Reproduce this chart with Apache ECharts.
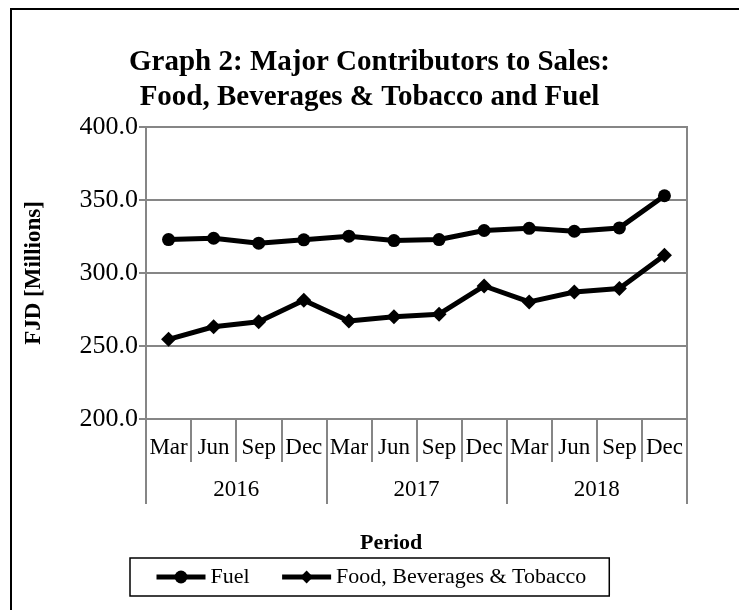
<!DOCTYPE html>
<html>
<head>
<meta charset="utf-8">
<script src="https://cdn.jsdelivr.net/npm/echarts@6/dist/echarts.min.js"></script>
<style>
html,body{margin:0;padding:0;background:#fff;}
#chart{width:739px;height:610px;}
</style>
</head>
<body>
<div id="chart"></div>
<script>
var months = ["Mar","Jun","Sep","Dec","Mar","Jun","Sep","Dec","Mar","Jun","Sep","Dec"];
var years = ["2016","2017","2018"];
var fuel = [322.9, 323.8, 320.4, 322.7, 325.2, 322.2, 322.9, 329.1, 330.6, 328.6, 330.9, 352.9];
var food = [254.6, 263.2, 266.6, 281.4, 267.1, 270.0, 271.8, 291.1, 280.2, 287.0, 289.4, 312.1];
var yTicks = [200, 250, 300, 350, 400];

var FONT = "'Liberation Serif', 'Times New Roman', serif";
var GRAY = '#868686';

var chart = echarts.init(document.getElementById('chart'), null, {renderer: 'canvas'});
chart.setOption({
  animation: false,
  backgroundColor: '#fff',
  graphic: [{
    type: 'rect',
    shape: {x: 11, y: 9, width: 760, height: 640},
    style: {fill: 'none', stroke: '#000', lineWidth: 2},
    silent: true
  }],
  title: [{
    text: 'Graph 2: Major Contributors to Sales:\nFood, Beverages & Tobacco and Fuel',
    left: 'center',
    top: 40,
    textStyle: {fontFamily: FONT, fontSize: 29, fontWeight: 'bold', color: '#000', lineHeight: 35}
  }, {
    text: 'Period',
    left: 355,
    top: 527,
    textStyle: {fontFamily: FONT, fontSize: 22, fontWeight: 'bold', color: '#000'}
  }],
  legend: {
    left: 130,
    top: 558,
    orient: 'horizontal',
    padding: [8, 23, 8, 24],
    itemGap: 30,
    itemWidth: 49,
    itemHeight: 16,
    borderColor: '#000',
    borderWidth: 1.5,
    lineStyle: {width: 5, color: '#000'},
    itemStyle: {color: '#000'},
    textStyle: {fontFamily: FONT, fontSize: 22, color: '#000'},
    data: ['Fuel', 'Food, Beverages & Tobacco']
  },
  grid: {
    left: 146, right: 52, top: 127, bottom: 191,
    show: true, borderColor: GRAY, borderWidth: 2, containLabel: false
  },
  xAxis: [{
    type: 'category',
    data: months,
    position: 'bottom',
    boundaryGap: true,
    axisLine: {show: true, lineStyle: {color: GRAY, width: 2}},
    axisTick: {show: true, interval: 0, length: 43, lineStyle: {color: GRAY, width: 2}},
    axisLabel: {interval: 0, margin: 17, fontFamily: FONT, fontSize: 23, color: '#000'},
    splitLine: {show: false}
  }, {
    type: 'category',
    data: years,
    position: 'bottom',
    offset: 0,
    boundaryGap: true,
    axisLine: {show: false},
    axisTick: {show: true, interval: 0, length: 85, lineStyle: {color: GRAY, width: 2}},
    axisLabel: {interval: 0, margin: 59, fontFamily: FONT, fontSize: 23, color: '#000'},
    splitLine: {show: false}
  }],
  yAxis: {
    type: 'value',
    min: yTicks[0],
    max: yTicks[yTicks.length - 1],
    interval: 50,
    name: 'FJD [Millions]',
    nameLocation: 'middle',
    nameRotate: 90,
    nameGap: 100,
    nameTextStyle: {fontFamily: FONT, fontSize: 23, fontWeight: 'bold', color: '#000'},
    axisLine: {show: true, lineStyle: {color: GRAY, width: 2}},
    axisTick: {show: true, length: 7, lineStyle: {color: GRAY, width: 2}},
    axisLabel: {margin: 8, fontFamily: FONT, fontSize: 26, color: '#000',
      formatter: function (v) { return v.toFixed(1); }},
    splitLine: {show: true, lineStyle: {color: GRAY, width: 2}}
  },
  series: [{
    name: 'Fuel',
    type: 'line',
    xAxisIndex: 0,
    data: fuel,
    symbol: 'circle',
    symbolSize: 13,
    lineStyle: {color: '#000', width: 5},
    itemStyle: {color: '#000'},
    color: '#000'
  }, {
    name: 'Food, Beverages & Tobacco',
    type: 'line',
    xAxisIndex: 0,
    data: food,
    symbol: 'diamond',
    symbolSize: 15,
    lineStyle: {color: '#000', width: 5},
    itemStyle: {color: '#000'},
    color: '#000'
  }]
});
</script>
</body>
</html>
